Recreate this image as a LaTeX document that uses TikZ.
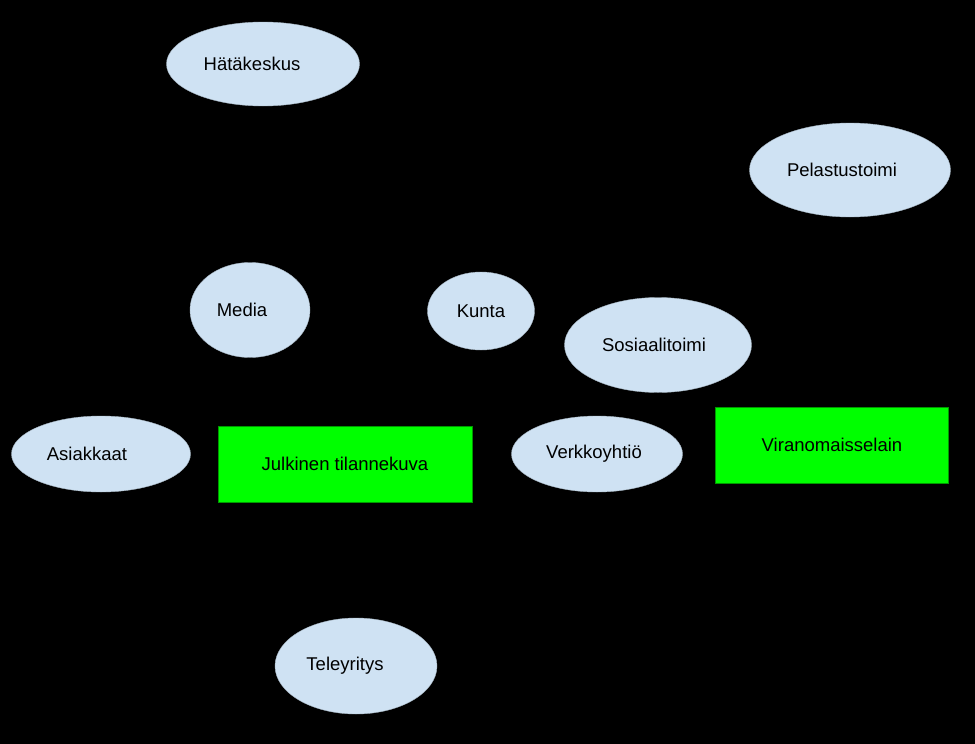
\documentclass[tikz,border=0pt]{standalone}
\usepackage{fontspec}
\setmainfont{Liberation Sans}
\usepackage{tikz}
\usetikzlibrary{shapes.geometric}
\usetikzlibrary{positioning}
\definecolor{orgblue}{HTML}{CFE2F3}
\definecolor{viewgreen}{HTML}{00FF00}

\begin{document}
\begin{tikzpicture}[x=1pt, y=-1pt, font=\fontsize{18.5}{22}\selectfont]

\tikzstyle{actor}=[ellipse, fill=orgblue, draw=orgblue!80!black, line width=0.4pt, inner sep=0pt]
\tikzstyle{view}=[rectangle, fill=viewgreen, draw=green!60!black, line width=0.8pt, inner sep=0pt]

% background
\fill[black] (0,0) rectangle (975,744);
\useasboundingbox (0,0) rectangle (975,744);

\node[actor, minimum width=193, minimum height=84] (hatakeskus) at (263,64) {H\"at\"akeskus\hspace*{22pt}};
\node[actor, minimum width=201, minimum height=94] (pelastustoimi) at (850,170) {Pelastustoimi\hspace*{16pt}};
\node[actor, minimum width=120, minimum height=95] (media) at (250,310) {Media\hspace*{16pt}};
\node[actor, minimum width=107, minimum height=78] (kunta) at (481,311) {Kunta};
\node[actor, minimum width=187, minimum height=95] (sosiaalitoimi) at (658,345) {Sosiaalitoimi\hspace*{8pt}};
\node[actor, minimum width=179, minimum height=76] (asiakkaat) at (101,454) {Asiakkaat\hspace*{28pt}};
\node[view, minimum width=254, minimum height=76] (julkinen) at (345,464) {Julkinen tilannekuva};
\node[actor, minimum width=171, minimum height=76] (verkkoyhtio) at (597,454) {Verkkoyhti\"o\hspace*{6pt}};
\node[view, minimum width=233, minimum height=76] (viranomainen) at (832,445) {Viranomaisselain};
\node[actor, minimum width=162, minimum height=96] (teleyritys) at (356,666) {Teleyritys\hspace*{22pt}};

\end{tikzpicture}
\end{document}
